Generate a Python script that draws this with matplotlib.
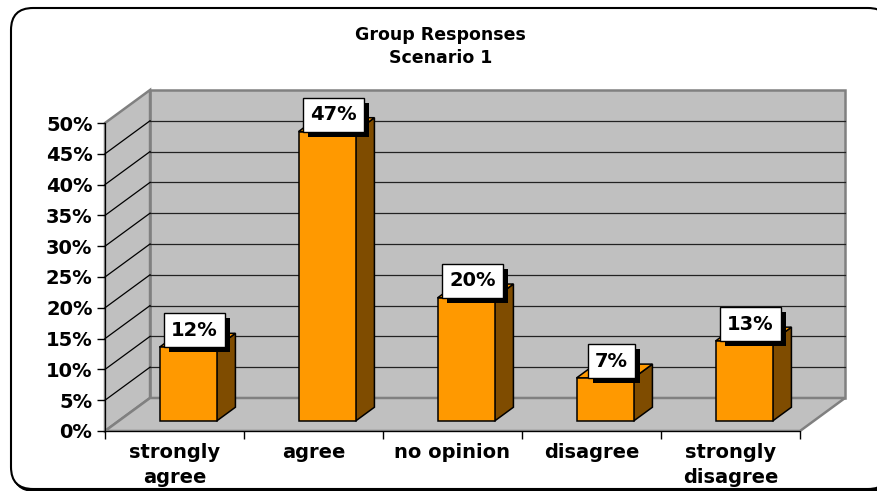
import matplotlib
matplotlib.use("Agg")
import matplotlib.pyplot as plt
import matplotlib.patheffects as pe
from matplotlib.patches import Polygon, FancyBboxPatch

# chart data
categories = ["strongly\nagree", "agree", "no opinion", "disagree", "strongly\ndisagree"]
values = [0.12, 0.47, 0.20, 0.07, 0.13]
value_labels = ["12%", "47%", "20%", "7%", "13%"]
y_ticks = [0.0, 0.05, 0.10, 0.15, 0.20, 0.25, 0.30, 0.35, 0.40, 0.45, 0.50]
y_tick_labels = ["0%", "5%", "10%", "15%", "20%", "25%", "30%", "35%", "40%", "45%", "50%"]
title_text = "Group Responses\nScenario 1"

# fake 3d geometry (depth vector in data units)
DEPTH_X = 0.324
DEPTH_Y = 0.0536
BAR_W = 0.41
F0, F1 = 0.30, 0.72

WALL = "#C0C0C0"
EDGE = "#808080"
FRONT = "#FF9900"
SIDE = "#7F4C00"

fig = plt.figure(figsize=(8.77, 4.91), dpi=100)

# rounded outer frame with shadow
shadow = FancyBboxPatch((0.13, 0.0), 8.79, 4.81, boxstyle="round,pad=0,rounding_size=0.22",
                        transform=fig.dpi_scale_trans, fc="black", ec="black", lw=1.5, zorder=-3)
frame = FancyBboxPatch((0.11, 0.02), 8.79, 4.81, boxstyle="round,pad=0,rounding_size=0.22",
                       transform=fig.dpi_scale_trans, fc="white", ec="black", lw=1.5, zorder=-2)
fig.patches.extend([shadow, frame])

ax = fig.add_axes([105 / 877, 60 / 491, 695 / 877, 308 / 491])
ax.set_xlim(0, len(categories))
ax.set_ylim(0, 0.5)
ax.patch.set_visible(False)
for s in ["top", "right"]:
    ax.spines[s].set_visible(False)
ax.spines["left"].set_color("black")
ax.spines["bottom"].set_color("black")

n = len(categories)
ymax = y_ticks[-1]

# walls and floor
back = [(DEPTH_X, DEPTH_Y), (n + DEPTH_X, DEPTH_Y), (n + DEPTH_X, ymax + DEPTH_Y), (DEPTH_X, ymax + DEPTH_Y)]
left = [(0, 0), (DEPTH_X, DEPTH_Y), (DEPTH_X, ymax + DEPTH_Y), (0, ymax)]
floor = [(0, 0), (n, 0), (n + DEPTH_X, DEPTH_Y), (DEPTH_X, DEPTH_Y)]
for poly in (back, left, floor):
    ax.add_patch(Polygon(poly, closed=True, fc=WALL, ec=EDGE, lw=1.8, clip_on=False, zorder=0.5))

# gridlines on back and side walls
for v in y_ticks[1:-1]:
    ax.plot([DEPTH_X, n + DEPTH_X], [v + DEPTH_Y] * 2, color="#222222", lw=0.9, clip_on=False, zorder=0.8)
    ax.plot([0, DEPTH_X], [v, v + DEPTH_Y], color="black", lw=0.9, clip_on=False, zorder=0.8)

# bars
ddx = (F1 - F0) * DEPTH_X
ddy = (F1 - F0) * DEPTH_Y
for i, v in enumerate(values):
    x0 = i + 0.5 - BAR_W / 2 + F0 * DEPTH_X
    y0 = F0 * DEPTH_Y
    front = [(x0, y0), (x0 + BAR_W, y0), (x0 + BAR_W, y0 + v), (x0, y0 + v)]
    side = [(x0 + BAR_W, y0), (x0 + BAR_W + ddx, y0 + ddy),
            (x0 + BAR_W + ddx, y0 + v + ddy), (x0 + BAR_W, y0 + v)]
    top = [(x0, y0 + v), (x0 + BAR_W, y0 + v),
           (x0 + BAR_W + ddx, y0 + v + ddy), (x0 + ddx, y0 + v + ddy)]
    for poly, col in ((side, SIDE), (top, FRONT), (front, FRONT)):
        ax.add_patch(Polygon(poly, closed=True, fc=col, ec="black", lw=1.1,
                             joinstyle="miter", clip_on=False, zorder=2))

    # value label with drop shadow
    xc = x0 + BAR_W / 2 + ddx / 2
    yc = y0 + v + ddy / 2
    t = ax.annotate(value_labels[i], (xc, yc), xytext=(-3, 10), textcoords="offset pixels",
                    ha="center", va="center", fontsize=14, fontweight="bold", color="black",
                    bbox=dict(boxstyle="square,pad=0.38", fc="white", ec="black", lw=1),
                    annotation_clip=False, zorder=4)
    t.get_bbox_patch().set_path_effects([
        pe.SimplePatchShadow(offset=(3.6, -3.6), shadow_rgbFace="black", alpha=1.0),
        pe.Normal()])

# axes ticks
ax.set_yticks(y_ticks)
ax.set_yticklabels(y_tick_labels, fontsize=14, fontweight="bold")
ax.tick_params(axis="y", direction="out", length=6, width=1, pad=3)

ax.set_xticks([i + 0.5 for i in range(n)])
ax.set_xticklabels(categories, fontsize=14, fontweight="bold", linespacing=1.35)
ax.set_xticks(range(n + 1), minor=True)
ax.tick_params(axis="x", which="major", length=0, pad=9)
ax.tick_params(axis="x", which="minor", direction="out", length=6, width=1)

fig.text(0.502, 1 - 46.5 / 491, title_text, ha="center", va="center",
         fontsize=12.5, fontweight="bold", linespacing=1.3)

fig.savefig("out.png", dpi=100)
